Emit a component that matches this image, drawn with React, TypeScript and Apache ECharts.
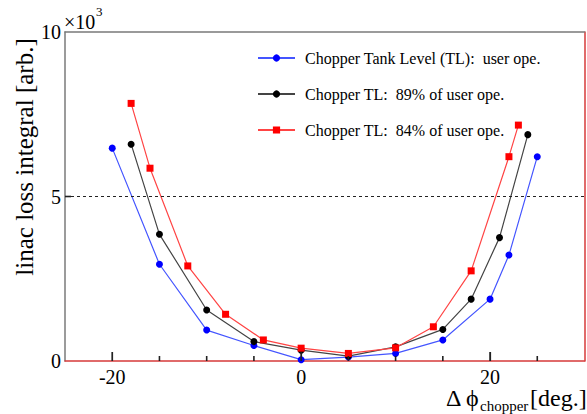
import React, { useEffect, useRef } from "react";
import * as echarts from "echarts";

const blueX = [-20, -15, -10, -5, 0, 5, 10, 15, 20, 22, 25];
const blueY = [6470, 2940, 940, 470, 40, 120, 230, 640, 1880, 3220, 6210];
const blackX = [-18, -15, -10, -5, 0, 5, 10, 15, 18, 21, 24];
const blackY = [6590, 3850, 1550, 590, 330, 150, 430, 960, 1880, 3750, 6880];
const redX = [-18, -16, -12, -8, -4, 0, 5, 10, 14, 18, 22, 23];
const redY = [7830, 5860, 2890, 1420, 640, 390, 230, 400, 1040, 2740, 6210, 7170];
const seriesNames = [
  "Chopper Tank Level (TL):  user ope.",
  "Chopper TL:  89% of user ope.",
  "Chopper TL:  84% of user ope.",
];
const xMajorTicks = [-20, 0, 20];
const xMinorTicks = [-15, -10, -5, 5, 10, 15, 25];
const yTicks = [5000];
const refLevel = 5000;

const FONT = "Liberation Serif";
const X_MIN = -25;
const X_MAX = 30;
const Y_MAX = 10000;

const zip = (xs: number[], ys: number[]) => xs.map((x, i) => [x, ys[i]]);

export default function App() {
  const ref = useRef<HTMLDivElement>(null);
  useEffect(() => {
    if (!ref.current) return;
    const chart = echarts.init(ref.current, null, { renderer: "svg" });
    const mk = (
      name: string,
      data: number[][],
      color: string,
      lineColor: string,
      symbol: string,
      extra: any = {}
    ) => ({
      name,
      type: "line",
      data,
      symbol,
      symbolSize: 7,
      showSymbol: true,
      itemStyle: { color },
      lineStyle: { color: lineColor, width: 1.2 },
      emphasis: { disabled: true },
      z: 3,
      ...extra,
    });
    const gray = "#7a7a7a";
    const red = "#d63a3a";
    const tickColor = "#222";
    chart.setOption({
      animation: false,
      grid: { left: 65, right: 2.5, top: 32, bottom: 53 },
      legend: {
        orient: "vertical",
        left: 257,
        top: 50,
        padding: 0,
        itemWidth: 37,
        itemHeight: 9,
        itemGap: 20,
        data: seriesNames,
        textStyle: {
          fontFamily: FONT,
          fontSize: 16,
          color: "#000",
          lineHeight: 16,
          padding: [0, 0, 0, 5],
        },
      },
      xAxis: [
        {
          type: "value",
          min: X_MIN,
          max: X_MAX,
          position: "bottom",
          axisLine: { show: true, onZero: false, lineStyle: { color: red, width: 1.5 } },
          axisTick: {
            show: true,
            inside: true,
            length: 9,
            customValues: xMajorTicks,
            lineStyle: { color: tickColor, width: 1.2 },
          },
          axisLabel: {
            customValues: xMajorTicks,
            fontFamily: FONT,
            fontSize: 20,
            color: "#000",
            margin: 6,
          },
          splitLine: { show: false },
        },
        {
          type: "value",
          min: X_MIN,
          max: X_MAX,
          position: "top",
          axisLine: { show: true, onZero: false, lineStyle: { color: gray, width: 1.5 } },
          axisTick: { show: false },
          axisLabel: { show: false },
          splitLine: { show: false },
        },
      ],
      yAxis: [
        {
          type: "value",
          min: 0,
          max: Y_MAX,
          interval: 5000,
          position: "left",
          axisLine: { show: true, onZero: false, lineStyle: { color: gray, width: 1.5 } },
          axisTick: { show: false },
          axisLabel: {
            fontFamily: FONT,
            fontSize: 20,
            color: "#000",
            margin: 4,
            formatter: (v: number) => String(v / 1000),
          },
          splitLine: { show: false },
        },
        {
          type: "value",
          min: 0,
          max: Y_MAX,
          position: "right",
          axisLine: { show: true, onZero: false, lineStyle: { color: red, width: 1.5 } },
          axisTick: { show: false },
          axisLabel: { show: false },
          splitLine: { show: false },
        },
      ],
      graphic: [
        {
          type: "text",
          x: 24,
          y: 157,
          rotation: Math.PI / 2,
          style: {
            text: "linac loss integral [arb.]",
            font: `25px "${FONT}"`,
            fill: "#000",
            align: "center",
            verticalAlign: "middle",
          },
        },
        {
          type: "text",
          x: 64,
          y: 32,
          style: {
            text: "×10",
            font: `20px "${FONT}"`,
            fill: "#000",
            align: "left",
            verticalAlign: "bottom",
          },
        },
        {
          type: "text",
          x: 96,
          y: 18,
          style: {
            text: "3",
            font: `13px "${FONT}"`,
            fill: "#000",
            align: "left",
            verticalAlign: "bottom",
          },
        },
        {
          type: "text",
          x: 446,
          y: 398,
          style: {
            text: "Δ ϕ",
            font: `24px "${FONT}"`,
            fill: "#000",
            align: "left",
            verticalAlign: "middle",
          },
        },
        {
          type: "text",
          x: 480,
          y: 406,
          style: {
            text: "chopper",
            font: `15px "${FONT}"`,
            fill: "#000",
            align: "left",
            verticalAlign: "middle",
          },
        },
        {
          type: "text",
          x: 530,
          y: 398,
          style: {
            text: "[deg.]",
            font: `24px "${FONT}"`,
            fill: "#000",
            align: "left",
            verticalAlign: "middle",
          },
        },
      ],
      series: [
        mk(seriesNames[0], zip(blueX, blueY), "#0000ff", "#4455ff", "circle", {
          markLine: {
            silent: true,
            symbol: "none",
            label: { show: false },
            lineStyle: { color: "#222", type: [3, 3], width: 1 },
            data: [{ yAxis: refLevel }],
          },
        }),
        mk(seriesNames[1], zip(blackX, blackY), "#000000", "#444444", "circle"),
        mk(seriesNames[2], zip(redX, redY), "#ff0000", "#ff4444", "rect"),
        {
          type: "custom",
          name: "ticks",
          silent: true,
          z: 4,
          clip: false,
          data: [
            ...xMajorTicks.map((v) => [v, 0, 9]),
            ...xMinorTicks.map((v) => [v, 1, 5]),
            ...yTicks.map((v) => [v, 2, 6]),
          ],
          renderItem: (params: any, api: any) => {
            const v = api.value(0);
            const kind = api.value(1);
            const len = api.value(2);
            const p = kind === 2 ? api.coord([X_MIN, v]) : api.coord([v, 0]);
            const shape =
              kind === 2
                ? { x1: p[0], y1: p[1], x2: p[0] + len, y2: p[1] }
                : { x1: p[0], y1: p[1], x2: p[0], y2: p[1] - len };
            return {
              type: "line",
              shape,
              style: { stroke: tickColor, lineWidth: 1.6 },
            };
          },
        },
      ],
    });
    return () => chart.dispose();
  }, []);
  return (
    <div
      ref={ref}
      style={{ position: "absolute", left: 0, top: 0, width: 587, height: 414 }}
    />
  );
}
